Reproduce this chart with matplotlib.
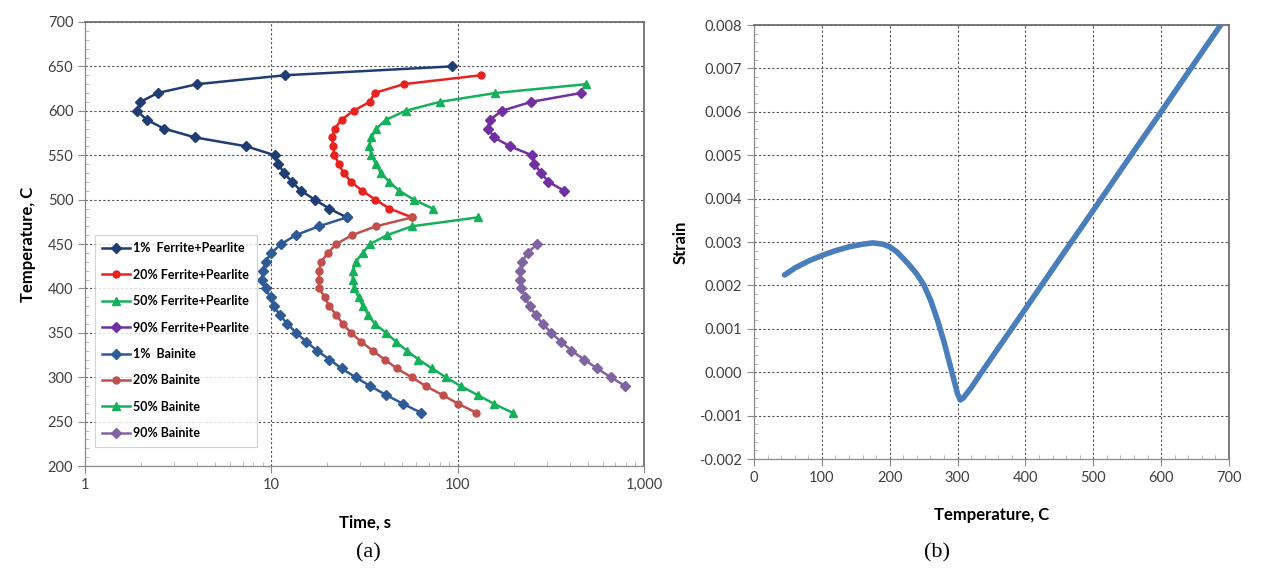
import matplotlib
matplotlib.use("Agg")
import matplotlib.pyplot as plt
from matplotlib.ticker import FuncFormatter, FixedLocator, MultipleLocator, LogLocator, NullFormatter

plt.rcParams['font.family'] = ['Lato', 'DejaVu Sans']
plt.rcParams['axes.unicode_minus'] = False

# ---------------- (a) TTT diagram data ----------------
T_fp1 = [650, 640, 630, 620, 610, 600, 590, 580, 570, 560, 550, 540, 530, 520, 510, 500, 490, 480]
t_fp1 = [93, 11.8, 4.0, 2.45, 1.98, 1.9, 2.14, 2.65, 3.9, 7.35, 10.4, 10.9, 11.7, 12.9, 14.4, 17.1, 20.4, 25.4]

T_fp20 = [640, 630, 620, 610, 600, 590, 580, 570, 560, 550, 540, 530, 520, 510, 500, 490, 480]
t_fp20 = [133, 51.2, 35.8, 33.7, 27.6, 23.8, 21.9, 21.2, 21.4, 21.8, 23.0, 24.4, 26.8, 30.7, 36.2, 42.9, 56.9]

T_fp50 = [630, 620, 610, 600, 590, 580, 570, 560, 550, 540, 530, 520, 510, 500, 490]
t_fp50 = [491, 159, 80, 52.5, 41.3, 36.5, 34.4, 33.6, 34.4, 36.5, 38.8, 42.9, 48.6, 58, 73.4]

T_fp90 = [620, 610, 600, 590, 580, 570, 560, 550, 540, 530, 520, 510]
t_fp90 = [458, 247, 173, 149, 145, 157, 191, 250, 258, 280, 307, 373]

T_b = [480, 470, 460, 450, 440, 430, 420, 410, 400, 390, 380, 370, 360, 350, 340, 330, 320, 310, 300, 290, 280, 270, 260]
t_b1 = [25.4, 18.0, 13.5, 11.3, 10.0, 9.3, 9.0, 8.95, 9.3, 9.9, 10.3, 11.1, 12.2, 13.6, 15.4, 17.6, 20.5, 23.8, 28.3, 34.0, 41.3, 51.0, 63.6]
t_b20 = [56.9, 36.5, 27.1, 22.3, 20.1, 18.5, 18.0, 18.0, 18.1, 19.3, 20.5, 22.3, 24.2, 26.8, 30.3, 35.0, 40.5, 47.1, 56.6, 67.6, 82.9, 101, 126]
t_b50 = [128, 56.9, 41.7, 33.9, 30.9, 28.3, 27.3, 27.3, 27.9, 29.4, 31.0, 33.2, 36.0, 41.3, 46.7, 53.3, 61.6, 72.8, 86.4, 104, 128, 157, 197]

T_b90 = [450, 440, 430, 420, 410, 400, 390, 380, 370, 360, 350, 340, 330, 320, 310, 300, 290]
t_b90 = [268, 237, 222, 215, 217, 220, 230, 244, 262, 286, 318, 359, 408, 476, 560, 663, 795]

labels_a = ["1%  Ferrite+Pearlite", "20% Ferrite+Pearlite", "50% Ferrite+Pearlite",
            "90% Ferrite+Pearlite", "1%  Bainite", "20% Bainite", "50% Bainite", "90% Bainite"]

# ---------------- (b) dilatometry data ----------------
temp_b = [45, 60, 80, 100, 120, 140, 160, 175, 190, 200, 210, 220, 230, 240, 250, 260, 270,
          280, 290, 300, 304, 308, 320, 332, 350, 400, 450, 500, 550, 600, 650, 690]
strain_b = [0.00224, 0.00240, 0.00256, 0.00269, 0.00280, 0.00289, 0.00295, 0.00298, 0.00295,
            0.00289, 0.00278, 0.00262, 0.00245, 0.00226, 0.00202, 0.00167, 0.00122, 0.00070,
            0.00010, -0.00050, -0.00064, -0.00060, -0.00036, -0.00008, 0.00033, 0.00146,
            0.00260, 0.00373, 0.00487, 0.00600, 0.00714, 0.00805]

fig = plt.figure(figsize=(12.62, 5.74), dpi=100)
ax1 = fig.add_axes([0.0674, 0.188, 0.5103 - 0.0674, 0.9617 - 0.188])
ax2 = fig.add_axes([0.5975, 0.2003, 0.9738 - 0.5975, 0.9564 - 0.2003])

grid_kw = dict(color='#505050', linestyle=(0, (2, 2)), linewidth=0.8)
tick_col = '#404040'
spine_col = '#8c8c8c'

series = [
    (t_fp1, T_fp1, '#1F3C73', 'D'),
    (t_fp20, T_fp20, '#E8221F', 'o'),
    (t_fp50, T_fp50, '#14B05A', '^'),
    (t_fp90, T_fp90, '#7030A0', 'D'),
    (t_b1, T_b, '#2E5A96', 'D'),
    (t_b20, T_b, '#C0504D', 'o'),
    (t_b50, T_b, '#14B05A', '^'),
    (t_b90, T_b90, '#8064A2', 'D'),
]
for (x, y, c, m), lab in zip(series, labels_a):
    ms = 5 if m == 'D' else (5.5 if m == '^' else 5)
    ax1.plot(x, y, color=c, marker=m, markersize=ms, linewidth=1.8, label=lab)

ax1.set_xscale('log')
ax1.set_xlim(1, 1000)
ax1.set_ylim(200, 700)
ax1.set_yticks(range(200, 701, 50))
ax1.yaxis.set_minor_locator(MultipleLocator(10))
ax1.xaxis.set_major_locator(FixedLocator([1, 10, 100, 1000]))
ax1.xaxis.set_minor_locator(LogLocator(base=10, subs=range(2, 10)))
ax1.xaxis.set_minor_formatter(NullFormatter())
ax1.xaxis.set_major_formatter(FuncFormatter(lambda v, p: f"{int(round(v)):,}"))
ax1.grid(True, which='major', **grid_kw)
ax1.set_xlabel("Time, s", fontsize=12, fontweight='bold', labelpad=16)
ax1.set_ylabel("Temperature, C", fontsize=12, fontweight='bold', labelpad=8)

leg = ax1.legend(loc='lower left', bbox_to_anchor=(0.006, 0.03),
                 prop={'weight': 'bold', 'size': 9}, labelspacing=1.15, handlelength=2.2,
                 handletextpad=0.3, frameon=True, fancybox=False, borderpad=0.6)
leg.get_frame().set_edgecolor('#c8c8c8')
leg.get_frame().set_linewidth(0.8)

# (b)
ax2.plot(temp_b, strain_b, color='#4A7EBB', linewidth=4, solid_capstyle='round')
ax2.set_xlim(0, 700)
ax2.set_ylim(-0.002, 0.008)
ax2.set_xticks(range(0, 701, 100))
ax2.set_yticks([i / 1000 for i in range(-2, 9)])
ax2.xaxis.set_minor_locator(MultipleLocator(20))
ax2.yaxis.set_minor_locator(MultipleLocator(0.0002))
ax2.yaxis.set_major_formatter(FuncFormatter(lambda v, p: f"{v:.3f}"))
ax2.grid(True, which='major', **grid_kw)
ax2.set_xlabel("Temperature, C", fontsize=12, fontweight='bold', labelpad=16)
ax2.set_ylabel("Strain", fontsize=12, fontweight='bold', labelpad=8)

for ax in (ax1, ax2):
    ax.tick_params(axis='both', which='major', labelsize=10.5, colors=spine_col,
                   labelcolor=tick_col, length=5, width=0.8, direction='out')
    ax.tick_params(axis='both', which='minor', colors='#b0b0b0', length=3, width=0.6, direction='in')
    for s in ('left', 'bottom'):
        ax.spines[s].set_color(spine_col)
        ax.spines[s].set_linewidth(0.9)
    for s in ('top', 'right'):
        ax.spines[s].set_color('#707070')
        ax.spines[s].set_linewidth(1.3)

fig.text(368 / 1262, 1 - 553 / 574, "(a)", fontsize=16, family=['Liberation Serif', 'DejaVu Serif'],
         ha='center', va='center')
fig.text(937 / 1262, 1 - 553 / 574, "(b)", fontsize=16, family=['Liberation Serif', 'DejaVu Serif'],
         ha='center', va='center')

fig.savefig("out.png", dpi=100)
